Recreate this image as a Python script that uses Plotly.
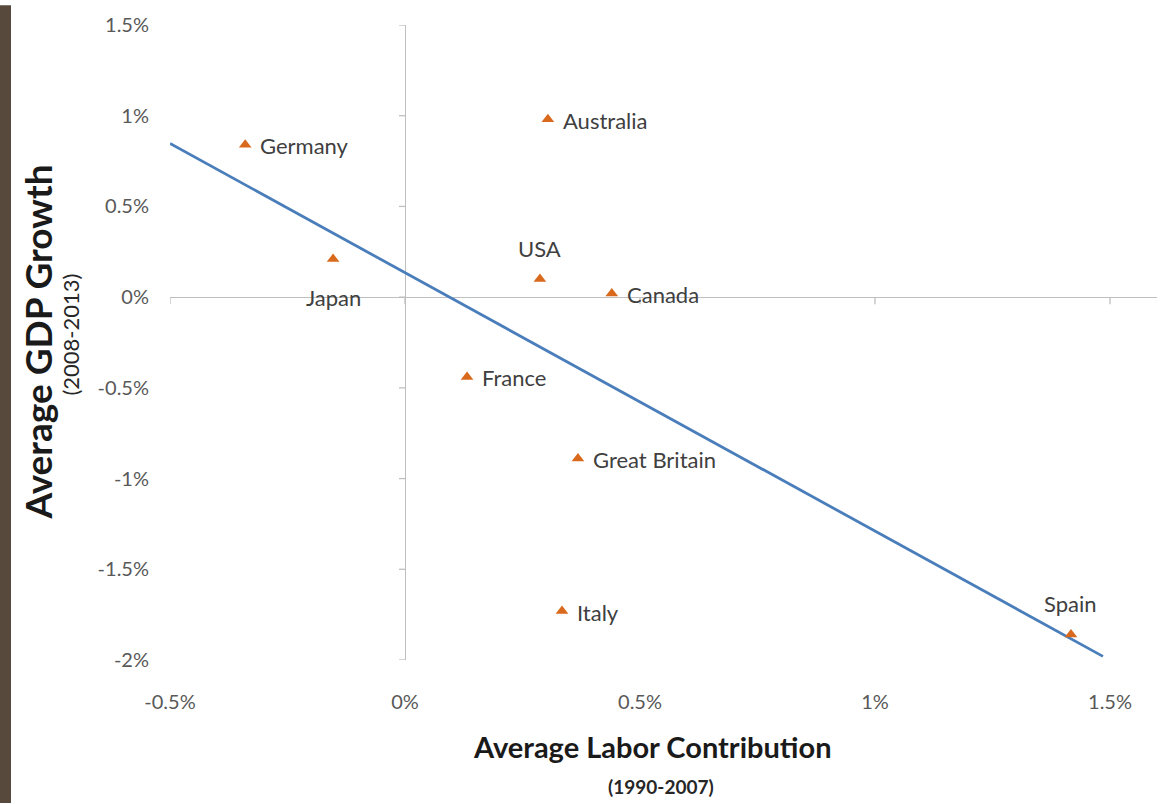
import plotly.graph_objects as go

# ---- data (percent) ----
countries = ["Germany", "Japan", "Australia", "USA", "Canada", "France", "Great Britain", "Italy", "Spain"]
labor = [-0.34, -0.153, 0.304, 0.287, 0.44, 0.132, 0.368, 0.334, 1.417]
gdp = [0.84, 0.21, 0.98, 0.10, 0.02, -0.44, -0.89, -1.73, -1.86]
label_side = ["right", "below", "right", "above", "right", "right", "right", "right", "above"]

trend_x = [-0.5, 1.485]
trend_y = [0.847, -1.98]

x_ticks = [-0.5, 0, 0.5, 1, 1.5]
x_ticktext = ["-0.5%", "0%", "0.5%", "1%", "1.5%"]
y_ticks = [-2, -1.5, -1, -0.5, 0, 0.5, 1, 1.5]
y_ticktext = ["-2%", "-1.5%", "-1%", "-0.5%", "0%", "0.5%", "1%", "1.5%"]

FONT = "Lato"
AXIS_GRAY = "#bfbfbf"
PW, PH = 987, 640  # plot area size in px (for paper-coordinate placement)

fig = go.Figure()

fig.add_trace(go.Scatter(
    x=trend_x, y=trend_y, mode="lines",
    line=dict(color="#4a7ebb", width=2.8),
    hoverinfo="skip", showlegend=False,
))

fig.add_trace(go.Scatter(
    x=labor, y=gdp, mode="markers",
    marker=dict(symbol="triangle-up", size=11, color="#d9691c"),
    text=countries, hoverinfo="text", showlegend=False,
))

annotations = []
for name, xv, yv, side in zip(countries, labor, gdp, label_side):
    a = dict(text=name, x=xv, y=yv, xref="x", yref="y", showarrow=False,
             font=dict(family=FONT, size=22, color="#404040"))
    if side == "right":
        a.update(xanchor="left", yanchor="middle", xshift=13, yshift=-1)
    elif side == "above":
        a.update(xanchor="center", yanchor="middle", yshift=31)
    else:
        a.update(xanchor="center", yanchor="middle", yshift=-38)
    annotations.append(a)

annotations += [
    dict(text="<b>Average Labor Contribution</b>", xref="paper", yref="paper",
         x=(652-170)/PW, y=(660-747)/PH, showarrow=False, xanchor="center", yanchor="middle",
         font=dict(family=FONT, size=29, color="#1a1a1a")),
    dict(text="<b>(1990-2007)</b>", xref="paper", yref="paper",
         x=(661-170)/PW, y=(660-787)/PH, showarrow=False, xanchor="center", yanchor="middle",
         font=dict(family=FONT, size=19, color="#262626")),
    dict(text="<b>Average GDP Growth</b>", xref="paper", yref="paper",
         x=(37-170)/PW, y=(660-340)/PH, showarrow=False, xanchor="center", yanchor="middle",
         textangle=-90, font=dict(family=FONT, size=37, color="#1a1a1a")),
    dict(text="(2008-2013)", xref="paper", yref="paper",
         x=(71-170)/PW, y=(660-332)/PH, showarrow=False, xanchor="center", yanchor="middle",
         textangle=-90, font=dict(family=FONT, size=22, color="#262626")),
]

shapes = []
# left brown stripe
shapes.append(dict(type="rect", xref="paper", yref="paper",
                   x0=-170/PW, x1=(11-170)/PW, y0=-144/PH, y1=1+20/PH,
                   fillcolor="#574a3d", line=dict(width=0), layer="below"))
# small tick marks on the zero lines
for t in y_ticks:
    shapes.append(dict(type="line", xref="x", yref="y", xsizemode="pixel", xanchor=0,
                       x0=-6, x1=0, y0=t, y1=t, line=dict(color=AXIS_GRAY, width=1.3)))
for t in x_ticks:
    shapes.append(dict(type="line", xref="x", yref="y", ysizemode="pixel", yanchor=0,
                       x0=t, x1=t, y0=-7, y1=0, line=dict(color=AXIS_GRAY, width=1.3)))

fig.update_layout(
    width=1169, height=804,
    margin=dict(l=170, r=12, t=20, b=144),
    paper_bgcolor="white", plot_bgcolor="white",
    shapes=shapes, annotations=annotations,
    font=dict(family=FONT),
)
fig.update_xaxes(
    range=[-0.5, 1.6], tickvals=x_ticks, ticktext=x_ticktext,
    showgrid=False, showline=False, zeroline=True, zerolinecolor=AXIS_GRAY, zerolinewidth=1.3,
    tickfont=dict(family=FONT, size=20, color="#595959"), ticks="", ticklabelstandoff=28,
)
fig.update_yaxes(
    range=[-2, 1.5], tickvals=y_ticks, ticktext=y_ticktext,
    showgrid=False, showline=False, zeroline=True, zerolinecolor=AXIS_GRAY, zerolinewidth=1.3,
    tickfont=dict(family=FONT, size=20, color="#595959"), ticks="", ticklabelstandoff=20,
)

fig.write_html("out.html", config={"displayModeBar": False},
               post_script="document.body.style.margin='0';")
